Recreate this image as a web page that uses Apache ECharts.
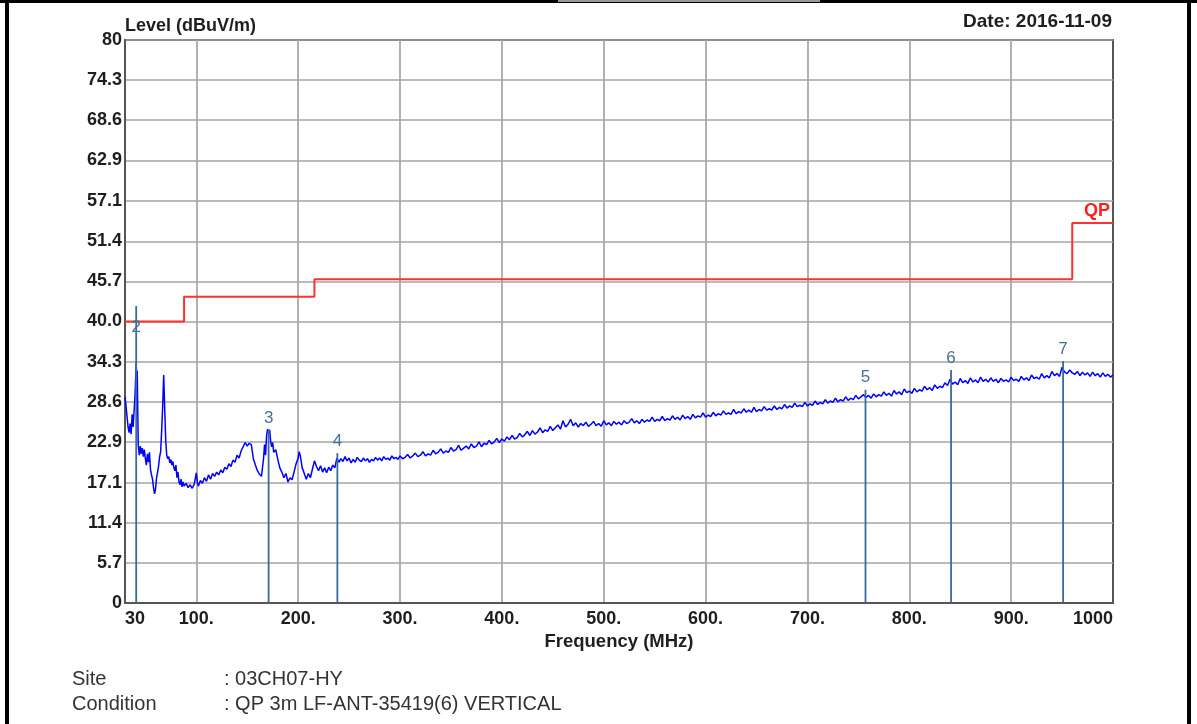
<!DOCTYPE html>
<html><head><meta charset="utf-8">
<script src="https://cdn.jsdelivr.net/npm/echarts@6/dist/echarts.min.js"></script>
<style>html,body{margin:0;padding:0;background:#fff}#c{width:1197px;height:724px}</style>
</head><body><div id="c"></div>
<script>
// ---- data ----
const yTicks = [0, 5.7, 11.4, 17.1, 22.9, 28.6, 34.3, 40.0, 45.7, 51.4, 57.1, 62.9, 68.6, 74.3, 80];
const xGridTicks = [100, 200, 300, 400, 500, 600, 700, 800, 900];
const xLabelTicks = [30, 100, 200, 300, 400, 500, 600, 700, 800, 900, 1000];
const limitFreq = [30, 88, 216, 960, 1000];
const limitLevel = [40, 43.5, 46, 54, 54];
const markerId = [2, 3, 4, 5, 6, 7];
const markerFreq = [41, 171, 238.5, 757, 841, 951];
const markerLevel = [42.2, 24.6, 21.3, 30.3, 33.1, 34.4];
const traceLow = [
 [30,29.3],[31,28.0],[32,26.5],[33,25.0],[34,24.2],[35,25.5],[36,24.0],[37,26.8],[38,25.0],[39,27.5],
 [40,30.0],[41,34.2],[41.5,30.5],[42,33.0],[43,22.5],[44,21.0],[45,22.3],[46,21.2],[47,22.0],[48,20.8],
 [49,21.8],[50,20.5],[51,19.6],[52,21.2],[53,20.0],[54,21.4],[55,19.0],[56,18.2],[57,17.6],[58,16.4],
 [59,15.5],[60,16.2],[61,17.8],[62,18.6],[63,19.5],[64,20.8],[65,21.5],[66,24.5],[67,28.0],[68,32.4],
 [69,27.5],[70,23.0],[71,21.0],[72,20.5],[73,20.8],[74,19.9],[75,20.4],[76,19.6],[77,20.1],[78,19.2],
 [79,18.8],[80,19.6],[81,17.8],[82,18.6],[83,17.2],[84,16.8],[85,17.6],[86,16.5],[87,17.2],[88,16.6],
 [90,17.0],[92,16.4],[94,16.8],[96,16.3],[98,16.9],[100,18.5],[101,17.2],[102,16.6],[104,17.4],[106,17.0],
 [108,17.8],[110,17.3],[112,18.2],[114,17.6],[116,18.4],[118,18.0],[120,18.6],[122,18.2],[124,18.9],[126,18.5],
 [128,19.3],[130,19.0],[132,19.8],[134,19.4],[136,20.3],[138,20.0],[140,21.0],[142,20.6],[144,21.6],[146,22.2],
 [148,22.8],[150,22.3],[152,22.7],[154,22.5],[156,20.5],[158,19.6],[160,18.8],[162,18.3],[164,18.0],[165,17.8],
 [166,20.5],[167,22.5],[168,21.0],[169,23.8],[170,24.7],[171,24.2],[172,24.6],[173,23.0],[174,22.2],[175,22.8],
 [176,21.4],[178,21.8],[180,20.4],[182,19.2],[184,18.6],[186,17.8],[188,18.4],[190,17.2],[192,17.8],[194,17.5],
 [196,18.6],[198,19.8],[200,20.6],[201,21.5],[202,21.0],[204,19.2],[206,18.4],[208,17.6],[210,18.4],[212,17.8],
 [214,19.0],[216,20.2],[218,19.4],[220,18.8],[222,19.5],[224,18.6],[226,19.2],[228,18.5],[230,19.3],[232,18.8],
 [234,19.6],[236,19.2],[238,20.6],[240,20.0],[242,20.5],[244,20.1],[246,20.8],[248,20.2],[250,20.6],[252,19.9],
 [254,20.4],[256,20.0],[258,20.7],[260,20.3],[262,20.1],[264,20.6],[266,20.2],[268,20.5],[270,20.0],[272,20.4],
 [274,20.2],[276,20.7],[278,20.3],[280,20.6],[282,20.2],[284,20.8],[286,20.4],[288,20.6],[290,20.3],[292,20.9],
 [294,20.5],[296,20.7],[298,20.4]
];
const traceHigh = [
 [300,20.9],[302.5,20.5],[305,20.7],[307.5,21.1],[310,20.6],[312.5,20.9],[315,21.3],[317.5,20.8],[320,21.0],[322.5,21.5],
 [325,20.9],[327.5,21.2],[330,21.0],[332.5,21.7],[335,21.2],[337.5,21.4],[340,21.9],[342.5,21.3],[345,21.6],[347.5,21.4],
 [350,22.1],[352.5,21.6],[355,21.8],[357.5,22.4],[360,21.7],[362.5,22.0],[365,22.3],[367.5,21.9],[370,22.6],[372.5,22.1],
 [375,22.3],[377.5,22.9],[380,22.2],[382.5,22.7],[385,22.5],[387.5,23.1],[390,22.6],[392.5,22.9],[395,23.4],[397.5,22.8],
 [400,23.3],[402.5,23.0],[405,23.6],[407.5,23.2],[410,23.8],[412.5,23.3],[415,23.5],[417.5,24.1],[420,23.6],[422.5,23.9],
 [425,24.4],[427.5,23.8],[430,24.5],[432.5,24.0],[435,24.3],[437.5,24.9],[440,24.2],[442.5,24.6],[445,24.4],[447.5,25.1],
 [450,24.5],[452.5,24.9],[455,25.3],[457.5,24.7],[460,25.9],[462.5,25.0],[465,25.4],[467.5,26.1],[470,25.2],[472.5,25.6],
 [475,25.0],[477.5,25.5],[480,25.2],[482.5,25.7],[485,25.1],[487.5,25.4],[490,25.8],[492.5,25.2],[495,25.5],[497.5,25.1],
 [500,25.9],[502.5,25.3],[505,25.6],[507.5,25.2],[510,25.8],[512.5,25.4],[515,25.7],[517.5,25.3],[520,25.9],[522.5,25.5],
 [525,25.7],[527.5,26.2],[530,25.6],[532.5,25.9],[535,25.5],[537.5,26.1],[540,25.7],[542.5,26.0],[545,25.8],[547.5,26.4],
 [550,25.8],[552.5,26.1],[555,25.9],[557.5,26.5],[560,25.9],[562.5,26.2],[565,26.0],[567.5,26.6],[570,26.1],[572.5,26.4],
 [575,26.0],[577.5,26.7],[580,26.2],[582.5,26.5],[585,26.1],[587.5,26.8],[590,26.3],[592.5,26.6],[595,26.4],[597.5,27.0],
 [600,26.4],[602.5,26.7],[605,26.5],[607.5,27.1],[610,26.6],[612.5,26.9],[615,26.7],[617.5,27.3],[620,26.8],[622.5,27.0],
 [625,26.8],[627.5,27.5],[630,26.9],[632.5,27.2],[635,27.0],[637.5,27.6],[640,27.1],[642.5,27.4],[645,27.1],[647.5,27.8],
 [650,27.2],[652.5,27.5],[655,27.3],[657.5,27.9],[660,27.4],[662.5,27.6],[665,27.4],[667.5,28.0],[670,27.5],[672.5,27.8],
 [675,27.6],[677.5,28.2],[680,27.7],[682.5,28.0],[685,27.8],[687.5,28.4],[690,27.9],[692.5,28.1],[695,27.9],[697.5,28.5],
 [700,28.0],[702.5,28.3],[705,28.1],[707.5,28.7],[710,28.2],[712.5,28.5],[715,28.3],[717.5,28.9],[720,28.4],[722.5,28.7],
 [725,28.5],[727.5,29.1],[730,28.6],[732.5,28.9],[735,28.7],[737.5,29.3],[740,28.8],[742.5,29.1],[745,28.9],[747.5,29.5],
 [750,29.0],[752.5,29.3],[755,29.6],[757.5,29.2],[760,29.5],[762.5,29.1],[765,29.7],[767.5,29.3],[770,29.6],[772.5,29.4],
 [775,30.0],[777.5,29.5],[780,29.8],[782.5,29.4],[785,30.2],[787.5,29.7],[790,30.0],[792.5,29.6],[795,30.4],[797.5,29.9],
 [800,30.1],[802.5,29.8],[805,30.5],[807.5,30.0],[810,30.3],[812.5,30.1],[815,30.8],[817.5,30.3],[820,30.6],[822.5,30.2],
 [825,31.0],[827.5,30.5],[830,30.8],[832.5,30.6],[835,31.3],[837.5,30.9],[840,31.8],[842.5,31.1],[845,31.4],[847.5,31.0],
 [850,31.9],[852.5,31.3],[855,31.6],[857.5,31.2],[860,32.0],[862.5,31.4],[865,31.7],[867.5,31.3],[870,32.1],[872.5,31.5],
 [875,31.8],[877.5,31.4],[880,32.0],[882.5,31.5],[885,31.8],[887.5,31.3],[890,31.9],[892.5,31.5],[895,31.7],[897.5,31.4],
 [900,32.1],[902.5,31.6],[905,31.8],[907.5,31.5],[910,32.2],[912.5,31.7],[915,32.0],[917.5,31.6],[920,32.4],[922.5,31.9],
 [925,32.1],[927.5,31.8],[930,32.6],[932.5,32.0],[935,32.3],[937.5,32.0],[940,32.9],[942.5,32.3],[945,32.6],[947.5,32.2],
 [950,33.5],[952.5,32.8],[955,32.6],[957.5,33.1],[960,32.7],[962.5,32.5],[965,32.9],[967.5,32.3],[970,32.8],[972.5,32.4],
 [975,32.7],[977.5,32.2],[980,32.8],[982.5,32.3],[985,32.6],[987.5,32.1],[990,32.7],[992.5,32.2],[995,32.5],[997.5,32.1],
 [1000,32.4]
];
const siteInfo = [['Site', ': 03CH07-HY'], ['Condition', ': QP 3m LF-ANT-35419(6) VERTICAL']];

// ---- chart ----
const FONT = 'Liberation Sans, Arial, sans-serif';
const TXT = '#1e1e1e';
const chart = echarts.init(document.getElementById('c'), null, {renderer: 'canvas'});

const trace = traceLow.concat(traceHigh);
const limitData = limitFreq.map((f, i) => [f, limitLevel[i]]);
const markerData = markerId.map((id, i) => [markerFreq[i], markerLevel[i], id]);
const labelDrop = {2: 21};

const graphics = [
  {type: 'rect', shape: {x: 5, y: 0, width: 4, height: 724}, style: {fill: '#000'}, silent: true},
  {type: 'rect', shape: {x: 1187, y: 0, width: 4, height: 724}, style: {fill: '#000'}, silent: true},
  {type: 'rect', shape: {x: 0, y: 0, width: 1197, height: 3}, style: {fill: '#000'}, silent: true},
  {type: 'rect', shape: {x: 558, y: 0, width: 262, height: 2}, style: {fill: '#999'}, silent: true}
];
siteInfo.forEach((row, i) => {
  graphics.push({type: 'text', left: 72, top: 669 + i * 25, style: {text: row[0], font: '20px ' + FONT, fill: '#333'}, silent: true});
  graphics.push({type: 'text', left: 224, top: 669 + i * 25, style: {text: row[1], font: '20px ' + FONT, fill: '#333'}, silent: true});
});

chart.setOption({
  animation: false,
  backgroundColor: '#fff',
  title: {text: 'Date: 2016-11-09', right: 80, top: 7,
    textStyle: {fontFamily: FONT, fontSize: 19, fontWeight: 'bold', color: TXT}},
  grid: {left: 125, top: 40, width: 988, height: 563, show: true, borderColor: '#555', borderWidth: 2, backgroundColor: 'transparent'},
  xAxis: {
    type: 'value', min: 30, max: 1000,
    name: 'Frequency (MHz)', nameLocation: 'middle', nameGap: 29, nameMoveOverlap: false,
    nameTextStyle: {fontFamily: FONT, fontSize: 18.5, fontWeight: 'bold', color: TXT},
    axisLine: {show: true, onZero: false, lineStyle: {color: '#555', width: 2}},
    axisTick: {show: false, customValues: xGridTicks},
    axisLabel: {customValues: xLabelTicks, showMinLabel: true, showMaxLabel: true,
      alignMinLabel: 'left', alignMaxLabel: 'right', margin: 7,
      fontFamily: FONT, fontSize: 18, fontWeight: 'bold', color: TXT,
      formatter: v => (v === 30 || v === 1000) ? String(v) : v + '.'},
    splitLine: {show: true, lineStyle: {color: '#a4a4a4', width: 1.7}}
  },
  yAxis: {
    type: 'value', min: 0, max: 80,
    name: 'Level (dBuV/m)', nameLocation: 'end', nameGap: 14, nameMoveOverlap: false,
    nameTextStyle: {fontFamily: FONT, fontSize: 18, fontWeight: 'bold', color: TXT, align: 'left', verticalAlign: 'middle'},
    axisLine: {show: true, lineStyle: {color: '#555', width: 2}},
    axisTick: {show: false, customValues: yTicks},
    axisLabel: {customValues: yTicks, showMinLabel: true, showMaxLabel: true, margin: 3,
      fontFamily: FONT, fontSize: 18, fontWeight: 'bold', color: TXT,
      formatter: v => (v === 0 || v === 80) ? String(v) : v.toFixed(1)},
    splitLine: {show: true, lineStyle: {color: '#a4a4a4', width: 1.7}}
  },
  graphic: graphics,
  series: [
    {type: 'line', name: 'Trace', data: trace, showSymbol: false, symbol: 'none',
      lineStyle: {color: '#0000ff', width: 1.5}, z: 3},
    {type: 'line', name: 'QP', data: limitData, step: 'end', showSymbol: false, symbol: 'none',
      lineStyle: {color: '#ff3030', width: 2}, z: 4,
      endLabel: {show: true, formatter: 'QP', color: '#ff2020', fontFamily: FONT, fontSize: 18, fontWeight: 'bold',
        align: 'right', verticalAlign: 'bottom', offset: [-3, -3], distance: 0}},
    {type: 'custom', name: 'Markers', data: markerData, z: 5,
      renderItem: (params, api) => {
        const f = api.value(0), lv = api.value(1), id = api.value(2);
        const top = api.coord([f, lv]);
        const bot = api.coord([f, 0]);
        const dy = labelDrop[id] !== undefined ? labelDrop[id] : -12;
        return {type: 'group', children: [
          {type: 'line', shape: {x1: top[0], y1: top[1], x2: bot[0], y2: bot[1]},
            style: {stroke: '#3a6a9c', lineWidth: 1.8}},
          {type: 'text', x: top[0], y: top[1] + dy,
            style: {text: String(id), font: '17px ' + FONT, fill: '#46709e', align: 'center', verticalAlign: 'middle'}}
        ]};
      }}
  ]
});
</script>
</body></html>
